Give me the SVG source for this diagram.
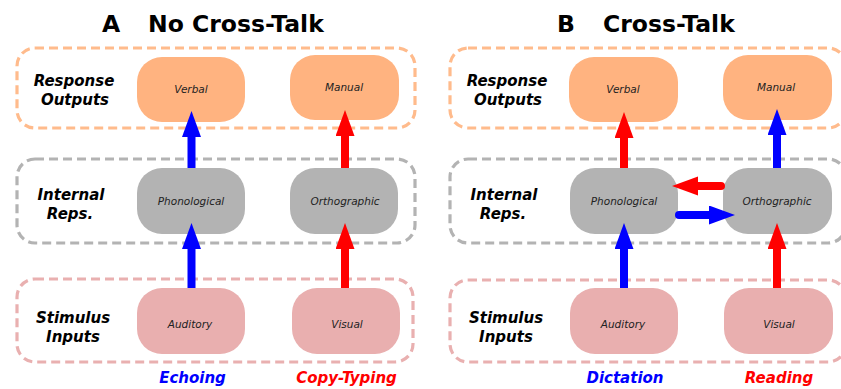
<svg xmlns="http://www.w3.org/2000/svg" width="841" height="389" viewBox="0 0 841 389">
<style>
.title{font-family:"DejaVu Sans",Verdana,sans-serif;font-weight:bold;font-size:23.5px;fill:#000}
.row{font-family:"DejaVu Sans",Verdana,sans-serif;font-weight:bold;font-style:italic;font-size:15px;fill:#000;text-anchor:middle}
.nt{font-family:"DejaVu Sans",Verdana,sans-serif;font-style:italic;font-size:10.5px;fill:#222;text-anchor:middle}
.task{font-family:"DejaVu Sans",Verdana,sans-serif;font-weight:bold;font-style:italic;font-size:15px;text-anchor:middle}
.box{fill:none;stroke-width:3.2;stroke-dasharray:9 5}
.bo{stroke:#ffbb8c}
.bi{stroke:#b3b3b3}
.bs{stroke:#e9b0b0}
.out{fill:#ffb380}
.rep{fill:#b3b3b3}
.inp{fill:#e9afaf}
.ab{stroke:#0000ff;stroke-width:8;fill:none}
.ar{stroke:#ff0000;stroke-width:8;fill:none}
.rc{stroke-linecap:round}
</style>
<defs>
<marker id="hb" markerUnits="userSpaceOnUse" markerWidth="26" markerHeight="20" refX="2" refY="9.5" orient="auto"><path d="M0,0 L26,9.5 L0,19 z" fill="#0000ff"/></marker>
<marker id="hr" markerUnits="userSpaceOnUse" markerWidth="26" markerHeight="20" refX="2" refY="9.5" orient="auto"><path d="M0,0 L26,9.5 L0,19 z" fill="#ff0000"/></marker>
</defs>
<rect width="841" height="389" fill="#fff"/>

<g id="titles">
<text class="title" x="102" y="32">A</text>
<text class="title" x="148" y="32">No Cross-Talk</text>
<text class="title" x="557" y="32">B</text>
<text class="title" x="603" y="32">Cross-Talk</text>
</g>

<g id="groups">
<rect class="box bo" x="17" y="48" width="398" height="80" rx="18"/>
<rect class="box bi" x="17" y="159" width="398" height="84" rx="18"/>
<rect class="box bs" x="17" y="279" width="396" height="83" rx="18"/>
<rect class="box bo" x="450" y="48" width="396" height="80" rx="18"/>
<rect class="box bi" x="450" y="159" width="396" height="84" rx="18"/>
<rect class="box bs" x="450" y="280" width="396" height="82" rx="18"/>
</g>

<g id="rowlabels">
<text class="row" x="74" y="86">Response</text>
<text class="row" x="75" y="104.5">Outputs</text>
<text class="row" x="71" y="200">Internal</text>
<text class="row" x="70" y="219">Reps.</text>
<text class="row" x="73" y="323">Stimulus</text>
<text class="row" x="73" y="342">Inputs</text>
<text class="row" x="507" y="86">Response</text>
<text class="row" x="508" y="104.5">Outputs</text>
<text class="row" x="504" y="200">Internal</text>
<text class="row" x="503" y="219">Reps.</text>
<text class="row" x="506" y="323">Stimulus</text>
<text class="row" x="506" y="342">Inputs</text>
</g>

<g id="A-verbal"><rect class="out" x="137" y="57" width="108" height="65" rx="25"/><text class="nt" x="191" y="93">Verbal</text></g>
<g id="A-manual"><rect class="out" x="290" y="55" width="109" height="65" rx="25"/><text class="nt" x="344" y="91">Manual</text></g>
<g id="A-phonological"><rect class="rep" x="137" y="168" width="108" height="66" rx="25"/><text class="nt" x="191" y="205">Phonological</text></g>
<g id="A-orthographic"><rect class="rep" x="290" y="168" width="108" height="66" rx="25"/><text class="nt" x="345" y="205">Orthographic</text></g>
<g id="A-auditory"><rect class="inp" x="137" y="288" width="108" height="66" rx="25"/><text class="nt" x="190" y="328">Auditory</text></g>
<g id="A-visual"><rect class="inp" x="292" y="288" width="108" height="66" rx="25"/><text class="nt" x="347" y="328">Visual</text></g>

<g id="B-verbal"><rect class="out" x="569" y="57" width="109" height="65" rx="25"/><text class="nt" x="623" y="93">Verbal</text></g>
<g id="B-manual"><rect class="out" x="723" y="55" width="109" height="65" rx="25"/><text class="nt" x="776" y="91">Manual</text></g>
<g id="B-phonological"><rect class="rep" x="570" y="168" width="108" height="66" rx="25"/><text class="nt" x="624" y="205">Phonological</text></g>
<g id="B-orthographic"><rect class="rep" x="723" y="168" width="109" height="66" rx="25"/><text class="nt" x="777" y="205">Orthographic</text></g>
<g id="B-auditory"><rect class="inp" x="570" y="288" width="108" height="66" rx="25"/><text class="nt" x="623" y="328">Auditory</text></g>
<g id="B-visual"><rect class="inp" x="724" y="288" width="109" height="66" rx="25"/><text class="nt" x="779" y="328">Visual</text></g>

<g id="connectors">
<line class="ab" x1="191.5" y1="168" x2="191.5" y2="135" marker-end="url(#hb)"/>
<line class="ab" x1="191.5" y1="288" x2="191.5" y2="247" marker-end="url(#hb)"/>
<line class="ar" x1="345" y1="168" x2="345" y2="134" marker-end="url(#hr)"/>
<line class="ar" x1="345" y1="288" x2="345" y2="247" marker-end="url(#hr)"/>
<line class="ar" x1="624" y1="168" x2="624" y2="136" marker-end="url(#hr)"/>
<line class="ab" x1="777" y1="168" x2="777" y2="133" marker-end="url(#hb)"/>
<line class="ab" x1="624" y1="288" x2="624" y2="247" marker-end="url(#hb)"/>
<line class="ar" x1="777" y1="288" x2="777" y2="247" marker-end="url(#hr)"/>
<line class="ar rc" x1="721" y1="186" x2="696" y2="186" marker-end="url(#hr)"/>
<line class="ab rc" x1="679" y1="215" x2="711" y2="215" marker-end="url(#hb)"/>
</g>

<g id="tasks">
<text class="task" x="192.5" y="382.5" fill="#0000ff">Echoing</text>
<text class="task" x="346.5" y="382.5" fill="#ff0000">Copy-Typing</text>
<text class="task" x="625" y="382.5" fill="#0000ff">Dictation</text>
<text class="task" x="779" y="382.5" fill="#ff0000">Reading</text>
</g>
</svg>
